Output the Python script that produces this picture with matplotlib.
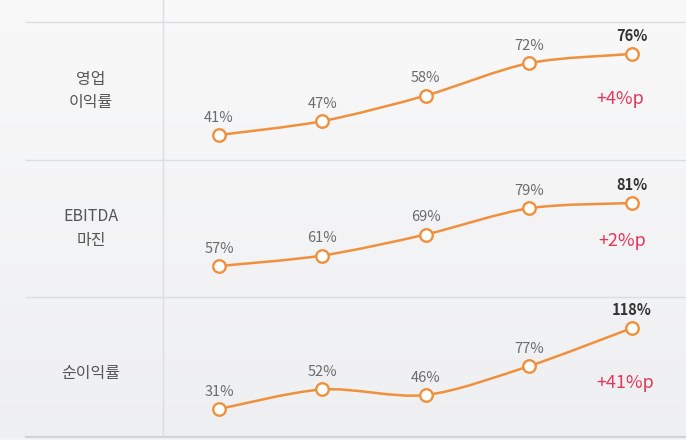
import numpy as np
import matplotlib
matplotlib.use('Agg')
import matplotlib.pyplot as plt
from matplotlib.path import Path
from matplotlib.patches import PathPatch

plt.rcParams['font.family'] = ['Noto Sans CJK KR', 'DejaVu Sans']

# data
row_labels = ['영업\n이익률', 'EBITDA\n마진', '순이익률']
op_margin = [41, 47, 58, 72, 76]
ebitda_margin = [57, 61, 69, 79, 81]
net_margin = [31, 52, 46, 77, 118]
changes = ['+4%p', '+2%p', '+41%p']
series = [op_margin, ebitda_margin, net_margin]

# layout (pixels from top of a 686x440 canvas)
W, H = 686.0, 440.0
row_edges = [22, 160, 297, 437]
ylims = [(30.2, 89.8), (45.2, 97.4), (0.9, 151.3)]
x_left = 163
x0, dx = 219, 103.25
delta_pos = [(620, 99), (622, 241), (625, 383)]

orange = '#f0903c'
red = '#e4375c'
grid = '#dcdde0'

fig = plt.figure(figsize=(W / 100, H / 100), dpi=100)

# background gradient
bg = fig.add_axes([0, 0, 1, 1], zorder=-10)
grad = np.linspace(0, 1, 256).reshape(-1, 1)
c_top = np.array([0.975, 0.975, 0.978])
c_bot = np.array([0.935, 0.938, 0.945])
img = c_top[None, None, :] * (1 - grad[:, :, None]) + c_bot[None, None, :] * grad[:, :, None]
bg.imshow(img, aspect='auto', extent=[0, 1, 0, 1])
bg.set_xlim(0, 1)
bg.set_ylim(0, 1)
bg.axis('off')

# separators
for y in row_edges[:-1]:
    bg.plot([26 / W, 1], [1 - y / H, 1 - y / H], color=grid, lw=1.0)
bg.plot([26 / W, 1], [1 - row_edges[-1] / H] * 2, color='#d2d3d7', lw=1.6)
bg.fill_between([0, 1], 0, 1 - 438 / H, color='#f4f4f5')
bg.plot([x_left / W] * 2, [1 - row_edges[-1] / H, 1], color=grid, lw=1.0)


def smooth_path(xs, ys, t=0.9):
    pts = np.column_stack([xs, ys]).astype(float)
    n = len(pts)
    verts = [pts[0]]
    codes = [Path.MOVETO]
    for i in range(n - 1):
        p_prev = pts[i - 1] if i > 0 else pts[i]
        p_next = pts[i + 2] if i + 2 < n else pts[i + 1]
        c1 = pts[i] + (pts[i + 1] - p_prev) * t / 6
        c2 = pts[i + 1] - (p_next - pts[i]) * t / 6
        verts += [c1, c2, pts[i + 1]]
        codes += [Path.CURVE4] * 3
    return Path(verts, codes)


xs = np.arange(5)
for r, vals in enumerate(series):
    top, bot = row_edges[r], row_edges[r + 1]
    ax = fig.add_axes([x_left / W, 1 - bot / H, (W - x_left) / W, (bot - top) / H])
    ax.set_xlim((x_left - x0) / dx, (W - x0) / dx)
    ax.set_ylim(*ylims[r])
    ax.axis('off')

    ax.add_patch(PathPatch(smooth_path(xs, vals), facecolor='none',
                           edgecolor=orange, lw=1.8, zorder=2))
    ax.plot(xs, vals, 'o', ms=9, mfc='white', mec=orange, mew=1.7, zorder=3)

    for i, v in enumerate(vals):
        last = i == len(vals) - 1
        ax.annotate('%d%%' % v, (i, v), xytext=(0, 9.5), textcoords='offset points',
                    ha='center', va='baseline', fontsize=10.5,
                    color='#333333' if last else '#6b6b6b',
                    fontweight='bold' if last else 'normal')

    dxp, dyp = delta_pos[r]
    ax.text((dxp - x_left) / (W - x_left), (bot - dyp) / (bot - top), changes[r],
            transform=ax.transAxes, ha='center', va='center', fontsize=13,
            color=red, fontweight='medium')

    fig.text(91 / W, 1 - ((top + bot) / 2 + (6 if r == 2 else 0)) / H, row_labels[r],
             ha='center', va='center', fontsize=11.5, color='#555555', linespacing=1.5)

fig.savefig('out.png', dpi=100)
